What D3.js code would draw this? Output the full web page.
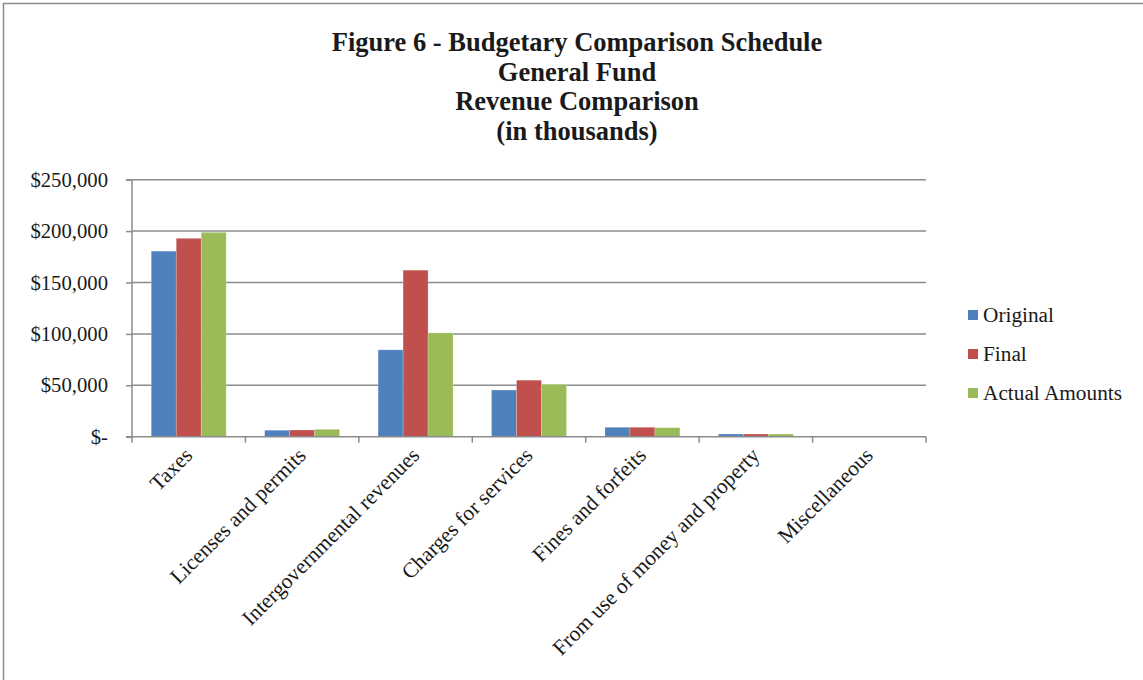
<!DOCTYPE html>
<html><head><meta charset="utf-8">
<script src="https://cdn.jsdelivr.net/npm/d3@7"></script>
<style>body{margin:0;background:#fff}svg{display:block}</style>
</head><body>
<script>
const categories = ["Taxes","Licenses and permits","Intergovernmental revenues","Charges for services","Fines and forfeits","From use of money and property","Miscellaneous"];
const seriesNames = ["Original","Final","Actual Amounts"];
const original = [180500, 6300, 84500, 45400, 9200, 2600, 700];
const finalAmt = [193000, 6500, 162000, 55000, 9200, 2600, 700];
const actual   = [198800, 7200, 101000, 51000, 8800, 2600, 200];
const yTicks = [0, 50000, 100000, 150000, 200000, 250000];
const titleLines = ["Figure 6 - Budgetary Comparison Schedule","General Fund","Revenue Comparison","(in thousands)"];
const colors = ["#4F81BD","#C0504D","#9BBB59"];

(function(){
const W = 1143, H = 680;
const svg = d3.select("body").append("svg").attr("width", W).attr("height", H);
svg.append("rect").attr("width", W).attr("height", H).attr("fill", "#fff");
svg.append("path").attr("d", `M3.5,${H+5} L3.5,3.5 L${W+5},3.5`).attr("fill","none").attr("stroke","#8c8c8c").attr("stroke-width",1.5);

const serif = "'Liberation Serif','Times New Roman',serif";
const title = svg.append("text").attr("text-anchor","middle").attr("font-family",serif)
  .attr("font-weight","bold").attr("font-size",26.5).attr("fill","#1a1a1a");
titleLines.forEach((t,i)=> title.append("tspan").attr("x",577).attr("y",51+i*29.5).text(t));

const pl = 132, pr = 926, pt = 179.7, pb = 436.7;
const x = d3.scaleBand().domain(categories).range([pl, pr]).paddingInner(0).paddingOuter(0);
const x1 = d3.scaleBand().domain(seriesNames).range([0, x.bandwidth()]).paddingInner(0).paddingOuter(0.77);
const y = d3.scaleLinear().domain([0, 250000]).range([pb, pt]);

svg.append("g").selectAll("line").data(yTicks.filter(d=>d>0)).join("line")
  .attr("x1", pl).attr("x2", pr).attr("y1", d=>y(d)).attr("y2", d=>y(d))
  .attr("stroke","#8c8c8c").attr("stroke-width",1.5);

const data = [original, finalAmt, actual];
const groups = svg.append("g").selectAll("g").data(categories).join("g")
  .attr("transform", d=>`translate(${x(d)},0)`);
groups.selectAll("rect").data((c,i)=> seriesNames.map((s,j)=>({s, v:data[j][i], j}))).join("rect")
  .attr("x", d=>x1(d.s)).attr("width", x1.bandwidth())
  .attr("y", d=>y(d.v)).attr("height", d=>pb - y(d.v))
  .attr("fill", d=>colors[d.j]).attr("stroke","rgba(255,255,255,0.35)").attr("stroke-width",0.6);

const yAxis = d3.axisLeft(y).tickValues(yTicks).tickSize(6).tickPadding(18)
  .tickFormat(d => d === 0 ? "$-" : "$" + d3.format(",")(d));
const ya = svg.append("g").attr("transform",`translate(${pl},0)`).call(yAxis);
ya.select(".domain").attr("stroke","#8c8c8c").attr("stroke-width",1.5).attr("d",`M-6,${pt}H0V${pb}H-6`);
ya.selectAll(".tick line").attr("stroke","#8c8c8c").attr("stroke-width",1.5);
ya.selectAll(".tick text").attr("font-family",serif).attr("font-size",20.7).attr("fill","#1a1a1a");

const xa = svg.append("g").attr("transform",`translate(0,${pb})`);
xa.append("line").attr("x1",pl).attr("x2",pr).attr("y1",0).attr("y2",0).attr("stroke","#8c8c8c").attr("stroke-width",1.5);
const bounds = categories.map(c=>x(c)).concat([pr]);
xa.selectAll("line.tk").data(bounds).join("line").attr("class","tk")
  .attr("x1",d=>d).attr("x2",d=>d).attr("y1",0).attr("y2",6).attr("stroke","#8c8c8c").attr("stroke-width",1.5);
xa.selectAll("text").data(categories).join("text")
  .attr("transform", d=>`translate(${x(d)+x.bandwidth()/2+5},${20}) rotate(-45)`)
  .attr("text-anchor","end").attr("font-family",serif).attr("font-size",21.5).attr("fill","#1a1a1a")
  .text(d=>d);

const lg = svg.append("g").selectAll("g").data(seriesNames).join("g")
  .attr("transform",(d,i)=>`translate(968,${315 + i*39})`);
lg.append("rect").attr("x",0).attr("y",-5).attr("width",10).attr("height",10).attr("fill",(d,i)=>colors[i]);
lg.append("text").attr("x",15).attr("y",7).attr("font-family",serif).attr("font-size",21.3).attr("fill","#1a1a1a").text(d=>d);
})();
</script>
</body></html>
